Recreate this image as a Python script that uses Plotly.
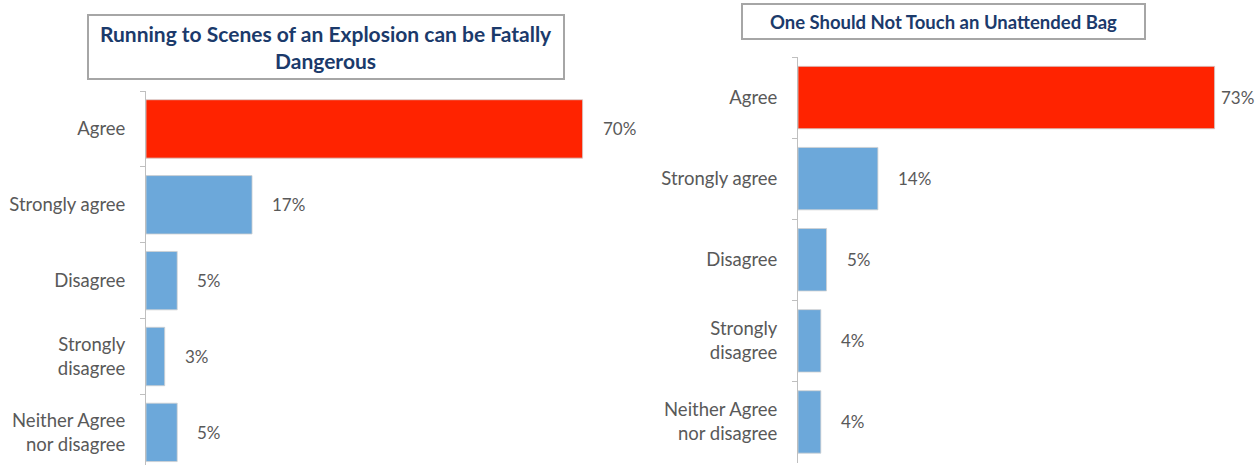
import plotly.graph_objects as go

title1 = "Running to Scenes of an Explosion can be Fatally<br>Dangerous"
title2 = "One Should Not Touch an Unattended Bag"

cats1 = ["Agree", "Strongly agree", "Disagree", "Strongly<br>disagree", "Neither Agree<br>nor disagree"]
vals1 = [70, 17, 5, 3, 5]
labels1 = ["70%", "17%", "5%", "3%", "5%"]

cats2 = ["Agree", "Strongly agree", "Disagree", "Strongly<br>disagree", "Neither Agree<br>nor disagree"]
vals2 = [73, 14, 5, 4, 4]
labels2 = ["73%", "14%", "5%", "4%", "4%"]

RED = "#FF2300"
BLUE = "#6CA8DA"
GRAY_TXT = "#595959"
NAVY = "#1B3A6B"
FONT = "Lato, 'Open Sans', sans-serif"

W, H = 1256, 465

def colors(vals):
    return [RED if i == 0 else BLUE for i in range(len(vals))]

fig = go.Figure()
fig.add_trace(go.Bar(x=vals1, y=cats1, orientation="h", marker=dict(color=colors(vals1), line=dict(color="#d0d0d0", width=0.8)),
                     xaxis="x", yaxis="y", hoverinfo="skip"))
fig.add_trace(go.Bar(x=vals2, y=cats2, orientation="h", marker=dict(color=colors(vals2), line=dict(color="#d0d0d0", width=0.8)),
                     xaxis="x2", yaxis="y2", hoverinfo="skip"))

annots = []
for i, (c, v, t) in enumerate(zip(cats1, vals1, labels1)):
    annots.append(dict(x=v, y=c, xref="x", yref="y", text=t, showarrow=False, xanchor="left",
                       xshift=18, font=dict(size=17, color=GRAY_TXT, family=FONT)))
for i, (c, v, t) in enumerate(zip(cats2, vals2, labels2)):
    annots.append(dict(x=v, y=c, xref="x2", yref="y2", text=t, showarrow=False, xanchor="left",
                       xshift=(4 if i == 0 else 18), font=dict(size=17, color=GRAY_TXT, family=FONT)))

# title boxes
annots.append(dict(x=(88 + 564) / 2 / W, y=1 - 14 / H, xref="paper", yref="paper", xanchor="center", yanchor="top",
                   text="<b>" + title1 + "</b>", showarrow=False, align="center",
                   font=dict(size=21, color=NAVY, family=FONT), bordercolor="#A6A6A6", borderwidth=2,
                   borderpad=2, width=470, height=58, bgcolor="white"))
annots.append(dict(x=(742 + 1145) / 2 / W, y=1 - 3 / H, xref="paper", yref="paper", xanchor="center", yanchor="top",
                   text="<b>" + title2 + "</b>", showarrow=False, align="center",
                   font=dict(size=18.5, color=NAVY, family=FONT), bordercolor="#A6A6A6", borderwidth=2,
                   borderpad=2, width=397, height=29, bgcolor="white"))

yax_common = dict(type="category", showline=True, linecolor="#BFBFBF", linewidth=1,
                  ticks="outside", tickson="boundaries", ticklen=5, tickcolor="#BFBFBF",
                  showgrid=False, zeroline=False, ticklabelstandoff=16,
                  tickfont=dict(size=18.5, color=GRAY_TXT, family=FONT), fixedrange=True)

fig.update_layout(
    width=W, height=H,
    margin=dict(l=0, r=0, t=0, b=0),
    paper_bgcolor="white", plot_bgcolor="white",
    showlegend=False, bargap=0.23,
    xaxis=dict(domain=[146 / W, 640 / W], range=[0, 79.2], visible=False, anchor="y"),
    yaxis=dict(domain=[0, 1 - 91 / H], range=[4.43, -0.5], anchor="x", **yax_common),
    xaxis2=dict(domain=[798 / W, 1250 / W], range=[0, 79.2], visible=False, anchor="y2"),
    yaxis2=dict(domain=[2.5 / H, 1 - 57 / H], range=[4.5, -0.5], anchor="x2", **yax_common),
    annotations=annots,
)

fig.write_html("out.html")
